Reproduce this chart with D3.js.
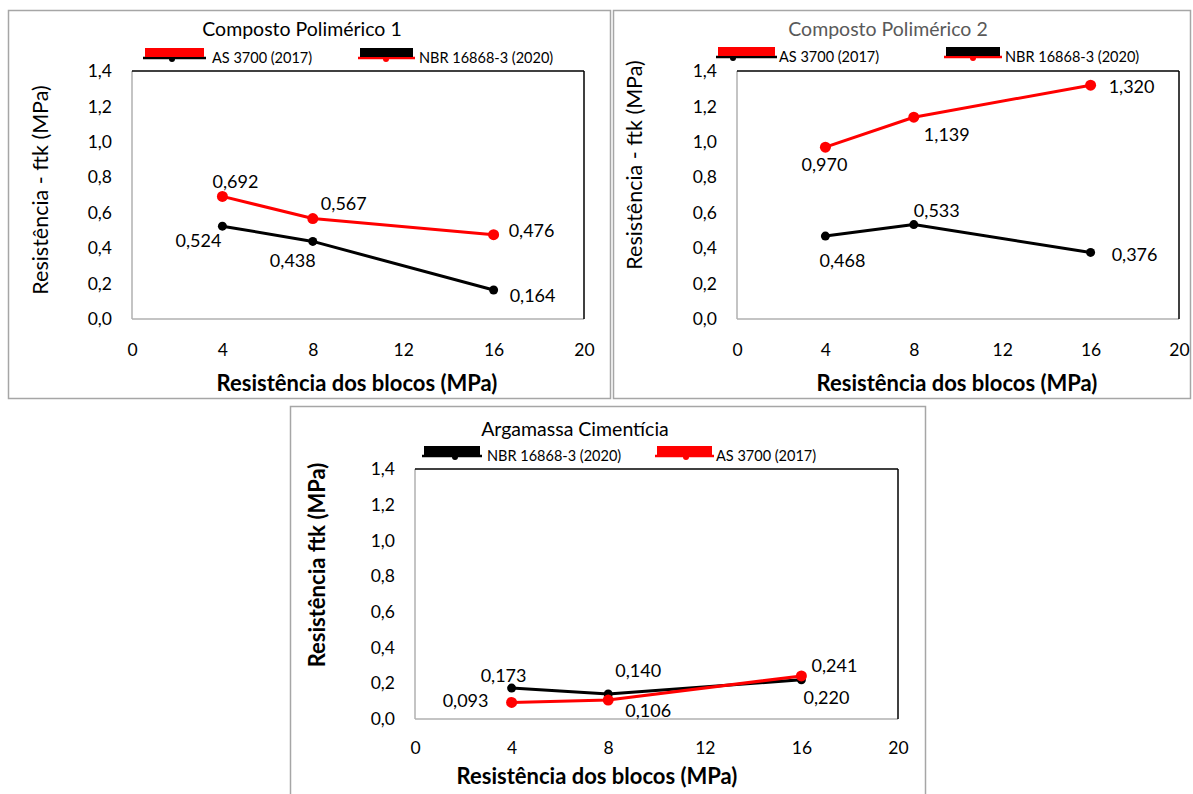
<!DOCTYPE html>
<html><head><meta charset="utf-8">
<script src="https://cdn.jsdelivr.net/npm/d3@7"></script>
<style>body{margin:0;background:#fff} svg{display:block} text{font-family:Lato,'Open Sans',sans-serif}</style>
</head><body><svg id="c" width="1193" height="794"></svg>
<script>
// ---- data ----
const xValues = [4, 8, 16];
const xTicks = [0, 4, 8, 12, 16, 20];
const yTicks = [0, 0.2, 0.4, 0.6, 0.8, 1.0, 1.2, 1.4];
const nameAS = "AS 3700 (2017)";
const nameNBR = "NBR 16868-3 (2020)";
const cp1AS = [0.692, 0.567, 0.476];
const cp1NBR = [0.524, 0.438, 0.164];
const cp2AS = [0.970, 1.139, 1.320];
const cp2NBR = [0.468, 0.533, 0.376];
const acNBR = [0.173, 0.140, 0.220];
const acAS = [0.093, 0.106, 0.241];
const panelTitles = ["Composto Polimérico 1", "Composto Polimérico 2", "Argamassa Cimentícia"];
const yTitles = ["Resistência - ftk (MPa)", "Resistência - ftk (MPa)", "Resistência ftk (MPa)"];
const xTitle = "Resistência dos blocos (MPa)";

const RED = "#ff0000", BLACK = "#000000";
const svg = d3.select("#c");
const fmtTick = v => d3.format(".1f")(v).replace(".", ",");
const fmtLab = v => d3.format(".3f")(v).replace(".", ",");

const panels = [
  {
    box: [8, 10, 602, 388], plot: {l: 132, r: 584, t: 71, b: 319},
    title: panelTitles[0], titleX: 302, titleY: 28, titleColor: "#000",
    yTitle: yTitles[0], yTitleX: 40, yTitleY: 190, yBold: false,
    xTitleX: 357, xTitleY: 382, tickY: 350,
    legendY: 57,
    legend: [
      {name: nameAS, main: RED, sub: BLACK, x0: 145, x1: 204, tx: 212, dot: 172},
      {name: nameNBR, main: BLACK, sub: RED, x0: 360, x1: 413, tx: 419, dot: 386}
    ],
    series: [
      {vals: cp1NBR, color: BLACK, r: 4.5, off: [[-24, 14], [-20, 19], [39, 5]]},
      {vals: cp1AS, color: RED, r: 5.5, off: [[13, -15], [31, -16], [38, -5]]}
    ]
  },
  {
    box: [613, 10, 577, 388], plot: {l: 737, r: 1179, t: 71, b: 319},
    title: panelTitles[1], titleX: 888, titleY: 28, titleColor: "#595959",
    yTitle: yTitles[1], yTitleX: 634, yTitleY: 165, yBold: false,
    xTitleX: 957, xTitleY: 382, tickY: 350,
    legendY: 56,
    legend: [
      {name: nameAS, main: RED, sub: BLACK, x0: 718, x1: 775, tx: 779, dot: 733},
      {name: nameNBR, main: BLACK, sub: RED, x0: 946, x1: 1000, tx: 1005, dot: 973}
    ],
    series: [
      {vals: cp2NBR, color: BLACK, r: 4.5, off: [[17, 24], [23, -15], [44, 2]]},
      {vals: cp2AS, color: RED, r: 5.5, off: [[-1, 17], [33, 17], [41, 1]]}
    ]
  },
  {
    box: [290, 406, 635, 400], plot: {l: 415, r: 898, t: 469, b: 719},
    title: panelTitles[2], titleX: 575, titleY: 428, titleColor: "#000",
    yTitle: yTitles[2], yTitleX: 316, yTitleY: 565, yBold: true,
    xTitleX: 597, xTitleY: 775, tickY: 748,
    legendY: 455,
    legend: [
      {name: nameNBR, main: BLACK, sub: BLACK, x0: 424, x1: 480, tx: 487, dot: 455},
      {name: nameAS, main: RED, sub: RED, x0: 657, x1: 712, tx: 716, dot: 686}
    ],
    series: [
      {vals: acNBR, color: BLACK, r: 4.5, off: [[-8, -13], [30, -24], [25, 17]]},
      {vals: acAS, color: RED, r: 5.5, off: [[-46, -2], [40, 10], [33, -11]]}
    ]
  }
];

panels.forEach(p => {
  const g = svg.append("g");
  const [bx, by, bw, bh] = p.box;
  g.append("rect").attr("x", bx + 0.5).attr("y", by + 0.5).attr("width", bw).attr("height", bh)
    .attr("fill", "none").attr("stroke", "#a6a6a6").attr("stroke-width", 1.5);

  const x = d3.scaleLinear().domain([0, 20]).range([p.plot.l, p.plot.r]);
  const y = d3.scaleLinear().domain([0, 1.4]).range([p.plot.b, p.plot.t]);

  g.append("line").attr("x1", p.plot.l).attr("x2", p.plot.l).attr("y1", p.plot.t).attr("y2", p.plot.b)
    .attr("stroke", "#b0b0b0").attr("stroke-width", 1.5);
  g.append("line").attr("x1", p.plot.l).attr("x2", p.plot.r).attr("y1", p.plot.b).attr("y2", p.plot.b)
    .attr("stroke", "#b0b0b0").attr("stroke-width", 1.5);
  g.append("line").attr("x1", p.plot.l).attr("x2", p.plot.r).attr("y1", p.plot.t).attr("y2", p.plot.t)
    .attr("stroke", "#000").attr("stroke-width", 1.5);
  g.append("line").attr("x1", p.plot.r).attr("x2", p.plot.r).attr("y1", p.plot.t).attr("y2", p.plot.b)
    .attr("stroke", "#000").attr("stroke-width", 1.5);

  const ya = d3.axisLeft(y).tickValues(yTicks).tickFormat(fmtTick).tickSize(0).tickPadding(20);
  const yg = g.append("g").attr("transform", `translate(${p.plot.l},0)`).call(ya);
  yg.select(".domain").remove();
  yg.selectAll("text").attr("font-size", 17.5).attr("fill", "#000").attr("font-family", "Lato");

  const xa = d3.axisBottom(x).tickValues(xTicks).tickFormat(d3.format("d")).tickSize(0).tickPadding(0);
  const xg = g.append("g").attr("transform", `translate(0,${p.tickY})`).call(xa);
  xg.select(".domain").remove();
  xg.selectAll("text").attr("font-size", 17.5).attr("fill", "#000").attr("font-family", "Lato")
    .attr("dy", "0.35em").attr("y", 0);

  g.append("text").attr("x", p.titleX).attr("y", p.titleY).attr("text-anchor", "middle")
    .attr("dominant-baseline", "central").attr("font-size", 19.5).attr("fill", p.titleColor).text(p.title);
  g.append("text").attr("x", p.xTitleX).attr("y", p.xTitleY).attr("text-anchor", "middle")
    .attr("dominant-baseline", "central").attr("font-size", 22).attr("font-weight", "bold").text(xTitle);
  g.append("text").attr("transform", `translate(${p.yTitleX},${p.yTitleY}) rotate(-90)`)
    .attr("text-anchor", "middle").attr("dominant-baseline", "central")
    .attr("font-size", p.yBold ? 22 : 21.5).attr("font-weight", p.yBold ? "bold" : "normal").text(p.yTitle);

  p.legend.forEach(l => {
    g.append("line").attr("x1", l.x0 - 2).attr("x2", l.x1 + 2).attr("y1", p.legendY + 1).attr("y2", p.legendY + 1)
      .attr("stroke", l.sub).attr("stroke-width", 2.5);
    g.append("circle").attr("cx", l.dot).attr("cy", p.legendY + 2).attr("r", 3).attr("fill", l.sub);
    g.append("rect").attr("x", l.x0).attr("y", p.legendY - 9).attr("width", l.x1 - l.x0).attr("height", 9)
      .attr("fill", l.main);
    g.append("text").attr("x", l.tx).attr("y", p.legendY).attr("dominant-baseline", "central")
      .attr("font-size", 14.5).attr("fill", "#000").text(l.name);
  });

  const line = d3.line().x((d, i) => x(xValues[i])).y(d => y(d));
  p.series.forEach(s => {
    g.append("path").datum(s.vals).attr("d", line).attr("fill", "none")
      .attr("stroke", s.color).attr("stroke-width", 3).attr("stroke-linejoin", "round");
    g.selectAll(null).data(s.vals).enter().append("circle")
      .attr("cx", (d, i) => x(xValues[i])).attr("cy", d => y(d)).attr("r", s.r).attr("fill", s.color);
  });
  p.series.forEach(s => {
    g.selectAll(null).data(s.vals).enter().append("text")
      .attr("x", (d, i) => x(xValues[i]) + s.off[i][0]).attr("y", (d, i) => y(d) + s.off[i][1])
      .attr("text-anchor", "middle").attr("dominant-baseline", "central")
      .attr("font-size", 18).attr("fill", "#000").text(d => fmtLab(d));
  });
});
</script></body></html>
